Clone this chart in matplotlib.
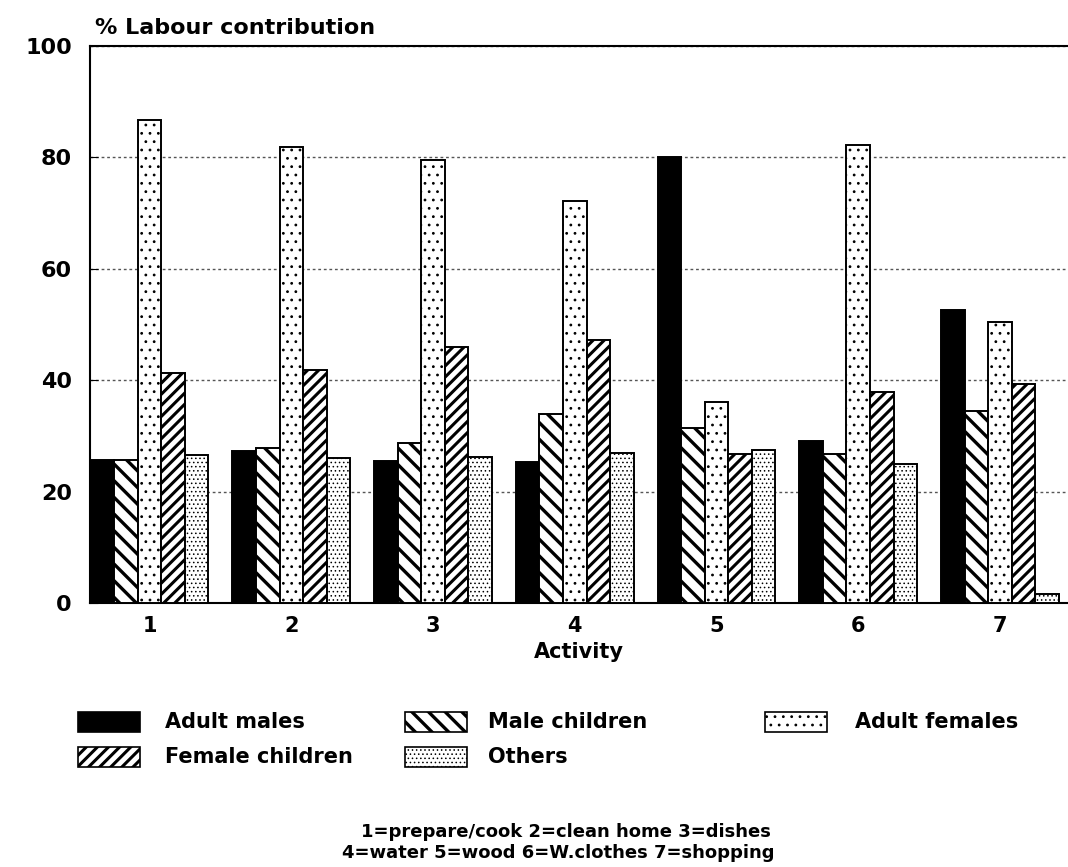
import matplotlib
matplotlib.use("Agg")
import numpy as np
import matplotlib.pyplot as plt
from matplotlib.patches import Rectangle

# --- data ---
activities = ["1", "2", "3", "4", "5", "6", "7"]
adult_males = [25.6, 27.2, 25.5, 25.4, 80.1, 29.0, 52.6]
male_children = [25.6, 27.9, 28.7, 33.9, 31.4, 26.8, 34.5]
adult_females = [86.7, 81.8, 79.6, 72.1, 36.1, 82.3, 50.5]
female_children = [41.3, 41.9, 45.9, 47.2, 26.8, 37.9, 39.3]
others = [26.5, 26.0, 26.3, 26.9, 27.4, 25.0, 1.7]

series_names = ["Adult males", "Male children", "Adult females", "Female children", "Others"]
series = [adult_males, male_children, adult_females, female_children, others]

# fill / hatch for each series
styles = [
    dict(facecolor="black", hatch=None, hlw=1.0),
    dict(facecolor="white", hatch="\\\\", hlw=2.4),
    dict(facecolor="white", hatch="..", hlw=0.8),
    dict(facecolor="white", hatch="///", hlw=2.2),
    dict(facecolor="white", hatch="....", hlw=0.6),
]

plt.rcParams["font.family"] = ["DejaVu Sans"]
plt.rcParams["font.weight"] = "bold"

fig = plt.figure(figsize=(10.68, 8.67), dpi=100)
ax = fig.add_axes([90 / 1068, 1 - 603 / 867, 1 - 90 / 1068, (603 - 46) / 867])

x = np.arange(1, len(activities) + 1)
w = 0.166
for i, (vals, st) in enumerate(zip(series, styles)):
    with plt.rc_context({"hatch.linewidth": st["hlw"]}):
        ax.bar(x + (i - 2) * w, vals, width=w, facecolor=st["facecolor"],
               edgecolor="black", linewidth=1.4, hatch=st["hatch"], zorder=3)

ax.set_xlim(0.58, 7.48)
ax.set_ylim(0, 100)
ax.set_yticks([0, 20, 40, 60, 80, 100])
ax.set_xticks(x)
ax.set_xticklabels(activities)
ax.tick_params(axis="x", length=0, labelsize=15, pad=9)
ax.tick_params(axis="y", direction="in", length=6, labelsize=16, pad=13)
for lab in ax.get_xticklabels() + ax.get_yticklabels():
    lab.set_fontweight("bold")

ax.yaxis.grid(True, linestyle=(0, (2, 2)), color="#555555", linewidth=1.0, zorder=0)
ax.spines["right"].set_visible(False)
for s in ["left", "top", "bottom"]:
    ax.spines[s].set_linewidth(1.5)

ax.set_xlabel("Activity", fontsize=15, fontweight="bold", labelpad=5)
fig.text(95 / 1068, 1 - 28 / 867, "% Labour contribution", fontsize=16,
         fontweight="bold", va="center", ha="left")

# --- legend drawn by hand so the rows sit like the original ---
leg_items = [
    (0, 78, 722, 165),
    (1, 405, 722, 488),
    (2, 765, 722, 855),
    (3, 78, 757, 165),
    (4, 405, 757, 488),
]
for idx, px, py, tx in leg_items:
    st = styles[idx]
    fig.text(tx / 1068, 1 - py / 867, series_names[idx], fontsize=15,
             fontweight="bold", va="center", ha="left", zorder=1)
    with plt.rc_context({"hatch.linewidth": st["hlw"]}):
        r = Rectangle((px / 1068, 1 - (py + 10) / 867), 62 / 1068, 20 / 867,
                      transform=fig.transFigure, facecolor=st["facecolor"],
                      edgecolor="black", linewidth=1.2, hatch=st["hatch"], zorder=5)
    fig.patches.append(r)

fig.text(566 / 1068, 1 - 832 / 867, "1=prepare/cook 2=clean home 3=dishes",
         fontsize=13, fontweight="bold", ha="center", va="center")
fig.text(558 / 1068, 1 - 853 / 867, "4=water 5=wood 6=W.clothes 7=shopping",
         fontsize=13, fontweight="bold", ha="center", va="center")

fig.savefig("out.png", dpi=100)
